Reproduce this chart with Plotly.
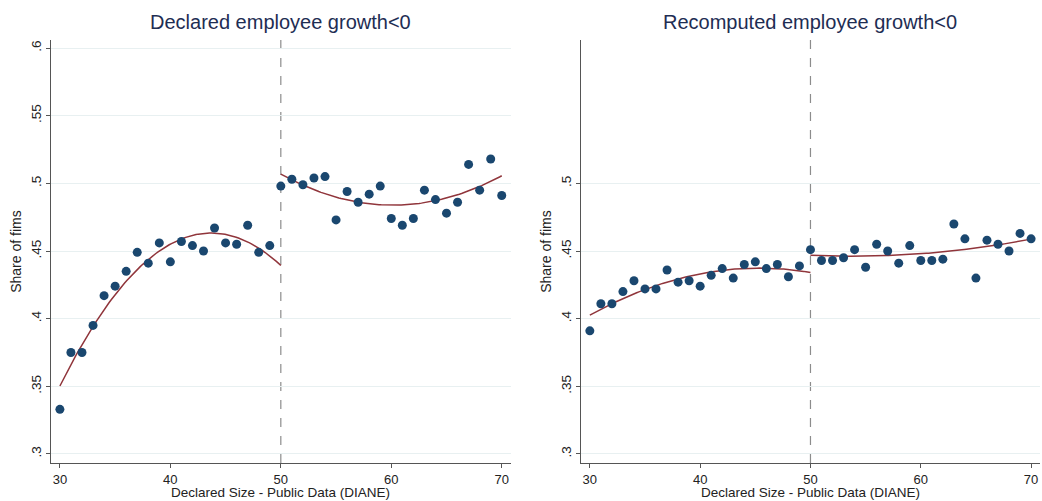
import numpy as np
import plotly.graph_objects as go

# Declared size bins (x) shared by both panels
size = list(range(30, 71))

# Share of firms, declared employee growth < 0
share_declared = [
    0.333, 0.375, 0.375, 0.395, 0.417, 0.424, 0.435, 0.449, 0.441, 0.456,
    0.442, 0.457, 0.454, 0.450, 0.467, 0.456, 0.455, 0.469, 0.449, 0.454,
    0.498, 0.503, 0.499, 0.504, 0.505, 0.473, 0.494, 0.486, 0.492, 0.498,
    0.474, 0.469, 0.474, 0.495, 0.488, 0.478, 0.486, 0.514, 0.495, 0.518,
    0.491,
]

# Share of firms, recomputed employee growth < 0
share_recomputed = [
    0.391, 0.411, 0.411, 0.420, 0.428, 0.422, 0.422, 0.436, 0.427, 0.428,
    0.424, 0.432, 0.437, 0.430, 0.440, 0.442, 0.437, 0.440, 0.431, 0.439,
    0.451, 0.443, 0.443, 0.445, 0.451, 0.438, 0.455, 0.450, 0.441, 0.454,
    0.443, 0.443, 0.444, 0.470, 0.459, 0.430, 0.458, 0.455, 0.450, 0.463,
    0.459,
]

threshold = 50
titles = ["Declared employee growth<0", "Recomputed employee growth<0"]
xtitle = "Declared Size - Public Data (DIANE)"
ytitle = "Share of fims"
ytick_left = [0.3, 0.35, 0.4, 0.45, 0.5, 0.55, 0.6]
ytick_right = [0.3, 0.35, 0.4, 0.45, 0.5]

MARKER = "#1a476f"
FIT = "#90353b"
FONT = "Liberation Sans, Arial, sans-serif"


def fmt(v):
    s = ("%g" % v)
    return s[1:] if s.startswith("0") else s


def qfit(xs, ys, lo, hi):
    # quadratic fit on each side of the threshold
    coef = np.polyfit(xs, ys, 2)
    grid = np.linspace(lo, hi, 100)
    return grid, np.polyval(coef, grid)


fig = go.Figure()
panels = [(share_declared, "x", "y", ytick_left), (share_recomputed, "x2", "y2", ytick_right)]

for vals, xa, ya, yt in panels:
    x = np.array(size)
    y = np.array(vals)
    left = x < threshold
    right = x >= threshold
    for mask, lo, hi in ((left, x.min(), threshold), (right, threshold, x.max())):
        gx, gy = qfit(x[mask], y[mask], lo, hi)
        fig.add_trace(go.Scatter(x=gx, y=gy, mode="lines", xaxis=xa, yaxis=ya,
                                 line=dict(color=FIT, width=1.5), showlegend=False))
    fig.add_trace(go.Scatter(x=x, y=y, mode="markers", xaxis=xa, yaxis=ya,
                             marker=dict(color=MARKER, size=9), showlegend=False))
    fig.add_shape(type="line", x0=threshold, x1=threshold, y0=0, y1=1,
                  xref=xa, yref=ya + " domain", layer="below",
                  line=dict(color="#8c8c8c", width=1.2, dash="dash"))

axis_common = dict(
    showline=True, linecolor="#555555", linewidth=1.2,
    ticks="outside", ticklen=4, tickcolor="#555555",
    tickfont=dict(size=13.5, color="#222222", family=FONT),
    zeroline=False, automargin=False,
)

domains = [[0.049, 0.490], [0.5576, 0.998]]
for i, (vals, xa, ya, yt) in enumerate(panels):
    xkey = "xaxis" if i == 0 else "xaxis2"
    ykey = "yaxis" if i == 0 else "yaxis2"
    fig.layout[xkey] = dict(
        axis_common, domain=domains[i], range=[29.2, 70.8], anchor=ya,
        tickvals=[30, 40, 50, 60, 70], showgrid=False,
        tickfont=dict(size=13, color="#222222", family=FONT),
    )
    fig.layout[ykey] = dict(
        axis_common, domain=[0.0758, 0.92], range=[0.2933, 0.6059], anchor=xa,
        tickvals=yt, ticktext=[fmt(v) for v in yt], tickangle=-90,
        showgrid=True, gridcolor="#e8f0f1", gridwidth=1,
        title=dict(text=ytitle, standoff=3,
                   font=dict(size=14, color="#222222", family=FONT)),
    )
    mid = (domains[i][0] + domains[i][1]) / 2
    fig.add_annotation(text=titles[i], xref="paper", yref="paper",
                       x=mid, y=0.956, showarrow=False,
                       xanchor="center", yanchor="middle",
                       font=dict(size=20, color="#1e2d53", family=FONT))
    fig.add_annotation(text=xtitle, xref="paper", yref="paper",
                       x=mid, y=0.0, showarrow=False, borderpad=0,
                       xanchor="center", yanchor="bottom",
                       font=dict(size=13.5, color="#222222", family=FONT))

fig.update_layout(
    width=1042, height=501,
    margin=dict(l=0, r=0, t=0, b=0),
    paper_bgcolor="white", plot_bgcolor="white",
    font=dict(family=FONT),
)

fig.write_html("out.html", config={"displayModeBar": False},
               post_script="document.body.style.margin='0';")
